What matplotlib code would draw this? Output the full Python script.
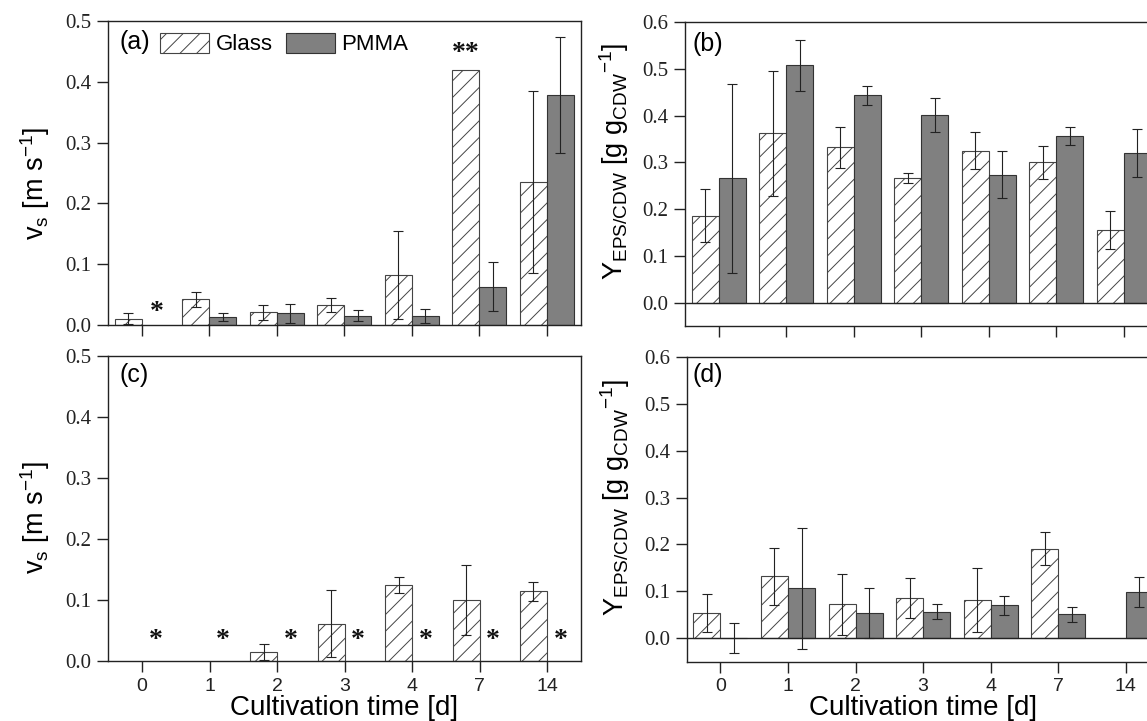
import matplotlib.pyplot as plt
import numpy as np

plt.rcParams["font.family"] = "Liberation Sans"
plt.rcParams["mathtext.default"] = "regular"
plt.rcParams["hatch.color"] = "#444444"
plt.rcParams["hatch.linewidth"] = 0.7

days = ["0", "1", "2", "3", "4", "7", "14"]
nan = np.nan

# (a) settling velocity, first condition
glass_a = [0.010, 0.042, 0.021, 0.033, 0.082, 0.419, 0.235]
glass_a_err = [0.009, 0.013, 0.012, 0.012, 0.072, nan, 0.150]
pmma_a = [nan, 0.013, 0.019, 0.015, 0.015, 0.063, 0.378]
pmma_a_err = [nan, 0.007, 0.015, 0.009, 0.011, 0.040, 0.095]

# (b) EPS yield, first condition
glass_b = [0.186, 0.362, 0.332, 0.267, 0.325, 0.300, 0.155]
glass_b_err = [0.057, 0.133, 0.043, 0.011, 0.040, 0.036, 0.040]
pmma_b = [0.266, 0.508, 0.444, 0.402, 0.274, 0.356, 0.320]
pmma_b_err = [0.202, 0.055, 0.020, 0.036, 0.050, 0.019, 0.051]

# (c) settling velocity, second condition
glass_c = [nan, nan, 0.015, 0.061, 0.125, 0.100, 0.114]
glass_c_err = [nan, nan, 0.013, 0.055, 0.013, 0.057, 0.015]
pmma_c = [nan, nan, nan, nan, nan, nan, nan]
pmma_c_err = [nan, nan, nan, nan, nan, nan, nan]

# (d) EPS yield, second condition
glass_d = [0.054, 0.132, 0.073, 0.086, 0.082, 0.191, nan]
glass_d_err = [0.040, 0.061, 0.065, 0.043, 0.068, 0.035, nan]
pmma_d = [0.0, 0.107, 0.054, 0.057, 0.070, 0.051, 0.098]
pmma_d_err = [0.032, 0.129, 0.054, 0.016, 0.021, 0.016, 0.032]

# significance marks: (day index, offset, text, y)
stars_a = [(0, 0.22, "*", 0.020), (5, -0.2, "**", 0.447)]
stars_c = [(i, 0.2, "*", 0.034) for i in range(7)]

EDGE = "#333333"
W = 0.4


def panel(ax, glass, gerr, pmma, perr, ymin, ymax, ylabel, lab_xy):
    x = np.arange(len(days))
    ax.bar(x - W / 2, glass, W, facecolor="white", edgecolor="#444444",
           hatch="//", linewidth=0.8, label="Glass", zorder=2)
    ax.bar(x + W / 2, pmma, W, facecolor="#808080", edgecolor=EDGE,
           linewidth=0.8, label="PMMA", zorder=2)
    ekw = dict(fmt="none", ecolor="#222222", elinewidth=0.8, capsize=3.8,
               capthick=0.8, zorder=3)
    ax.errorbar(x - W / 2, glass, yerr=gerr, **ekw)
    ax.errorbar(x + W / 2, pmma, yerr=perr, **ekw)

    ax.set_xlim(-0.5, 6.5)
    ax.set_ylim(ymin, ymax)
    ax.set_xticks(x)
    ax.set_xticklabels(days)
    ticks = np.arange(0, ymax + 0.001, 0.1)
    ax.set_yticks(ticks)
    ax.set_yticklabels([f"{v:.1f}" for v in ticks],
                       fontfamily="Liberation Serif", fontsize=15)
    ax.tick_params(direction="out", length=8, width=1, colors="#222222")
    ax.tick_params(axis="y", pad=4)
    ax.tick_params(axis="x", pad=4, labelsize=14)
    for s in ax.spines.values():
        s.set_linewidth(1.0)
        s.set_color("#222222")
    if ymin < 0:
        ax.axhline(0, color="#222222", lw=1.0, zorder=2.5)
    ax.set_ylabel(ylabel, fontsize=19.5)
    ax.yaxis.set_label_coords(*lab_xy)
    return ax


fig = plt.figure(figsize=(11.47, 7.21), dpi=100)
ax_a = fig.add_axes([0.0942, 0.5492, 0.4121, 0.4216])
ax_b = fig.add_axes([0.5972, 0.5479, 0.4121, 0.4212])
ax_c = fig.add_axes([0.0945, 0.0832, 0.4118, 0.4230])
ax_d = fig.add_axes([0.5987, 0.0822, 0.4121, 0.4230])

vs_label = r"v$_s$ [m s$^{-1}$]"
y_label = r"Y$_{EPS/CDW}$ [g g$_{CDW}$$^{-1}$]"

panel(ax_a, glass_a, glass_a_err, pmma_a, pmma_a_err, 0, 0.5,
      vs_label, (-0.119, 0.467))
panel(ax_b, glass_b, glass_b_err, pmma_b, pmma_b_err, -0.05, 0.6,
      y_label, (-0.115, 0.54))
panel(ax_c, glass_c, glass_c_err, pmma_c, pmma_c_err, 0, 0.5,
      vs_label, (-0.119, 0.469))
panel(ax_d, glass_d, glass_d_err, pmma_d, pmma_d_err, -0.05, 0.6,
      y_label, (-0.115, 0.538))

for ax in (ax_a, ax_b):
    ax.tick_params(axis="x", labelbottom=False)
for ax in (ax_c, ax_d):
    ax.set_xlabel("Cultivation time [d]", fontsize=20, labelpad=0)

for ax, lab, xy in [(ax_a, "(a)", (0.025, 0.93)), (ax_b, "(b)", (0.015, 0.93)),
                    (ax_c, "(c)", (0.023, 0.938)), (ax_d, "(d)", (0.013, 0.94))]:
    ax.text(*xy, lab, transform=ax.transAxes, fontsize=18, ha="left", va="center")

for ax, stars in [(ax_a, stars_a), (ax_c, stars_c)]:
    for i, dx, t, y in stars:
        ax.text(i + dx, y, t, ha="center", va="center", fontsize=20,
                fontfamily="Liberation Serif", fontweight="bold", color="#111111")

ax_a.legend(ncol=2, loc="upper left", bbox_to_anchor=(0.11, 0.962),
            frameon=False, handlelength=2.2, handleheight=1.05,
            columnspacing=0.6, handletextpad=0.3, borderpad=0,
            borderaxespad=0, fontsize=16)

fig.savefig("out.png", dpi=100)
